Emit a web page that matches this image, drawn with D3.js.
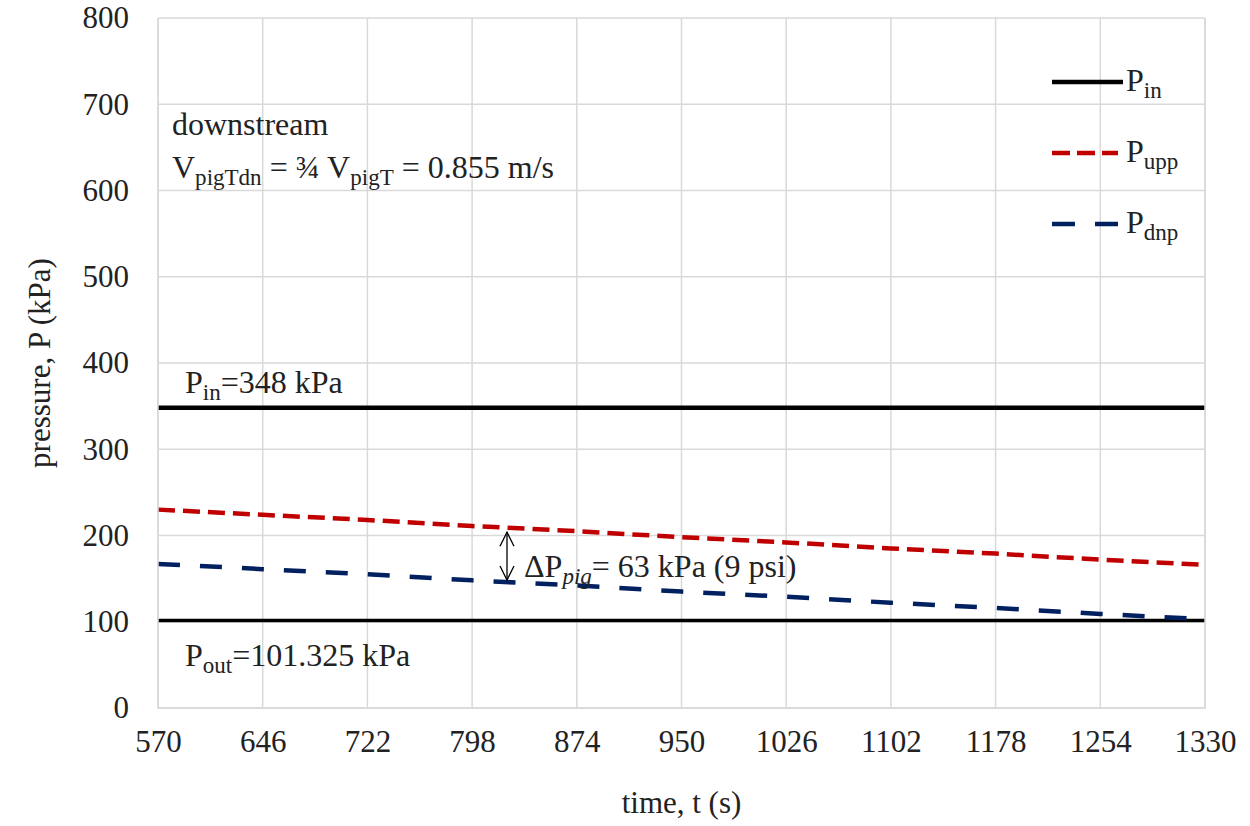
<!DOCTYPE html>
<html>
<head>
<meta charset="utf-8">
<script src="https://cdn.jsdelivr.net/npm/d3@7"></script>
<style>
  body { margin: 0; background: #fff; }
  text { font-family: "Liberation Serif", "Times New Roman", serif; fill: #222; }
</style>
</head>
<body>
<div id="chart"></div>
<script>
// x ticks (time, s) and y ticks (pressure, kPa)
const timeTicks = [570, 646, 722, 798, 874, 950, 1026, 1102, 1178, 1254, 1330];
const pressureTicks = [0, 100, 200, 300, 400, 500, 600, 700, 800];

// series at each time tick
const pIn = [348, 348, 348, 348, 348, 348, 348, 348, 348, 348, 348];
const pUpp = [230, 224, 218, 211, 205, 198, 192, 185, 179, 172, 166];
const pDnp = [167, 161, 155, 148, 142, 135, 129, 122, 116, 109, 103];
const pOut = 101.325;

const width = 1250, height = 826;
const margin = {top: 18, right: 45, bottom: 118, left: 158};
const fs = 31;   // axis text
const afs = 32;  // annotation / legend text

const svg = d3.select("#chart").append("svg")
  .attr("width", width).attr("height", height);

const x = d3.scaleLinear().domain([570, 1330]).range([margin.left, width - margin.right]);
const y = d3.scaleLinear().domain([0, 800]).range([height - margin.bottom, margin.top]);

// gridlines
svg.append("g").selectAll("line").data(pressureTicks).join("line")
  .attr("x1", x(570)).attr("x2", x(1330))
  .attr("y1", d => y(d)).attr("y2", d => y(d))
  .attr("stroke", "#d9d9d9").attr("stroke-width", 1.5);
svg.append("g").selectAll("line").data(timeTicks).join("line")
  .attr("x1", d => x(d)).attr("x2", d => x(d))
  .attr("y1", y(0)).attr("y2", y(800))
  .attr("stroke", "#d9d9d9").attr("stroke-width", 1.5);

// axes (labels only)
const xAxis = svg.append("g")
  .attr("transform", `translate(0,${y(0)})`)
  .call(d3.axisBottom(x).tickValues(timeTicks).tickSize(0).tickPadding(22).tickFormat(d3.format("d")));
const yAxis = svg.append("g")
  .attr("transform", `translate(${x(570)},0)`)
  .call(d3.axisLeft(y).tickValues(pressureTicks).tickSize(0).tickPadding(29));
[xAxis, yAxis].forEach(a => {
  a.select(".domain").remove();
  a.selectAll("text").style("font-size", fs + "px").style("font-family", "Liberation Serif").attr("fill", "#222");
});

// axis titles
svg.append("text").attr("x", (x(570) + x(1330)) / 2).attr("y", 813)
  .attr("text-anchor", "middle").style("font-size", fs + "px").text("time, t (s)");
svg.append("text").attr("transform", `translate(50,${(y(0) + y(800)) / 2}) rotate(-90)`)
  .attr("text-anchor", "middle").style("font-size", fs + "px").text("pressure, P (kPa)");

// lines
const line = d3.line().x((d, i) => x(timeTicks[i])).y(d => y(d));
svg.append("line")
  .attr("x1", x(570)).attr("x2", x(1330)).attr("y1", y(pOut)).attr("y2", y(pOut))
  .attr("stroke", "#000").attr("stroke-width", 3.5);
svg.append("path").datum(pIn).attr("d", line)
  .attr("fill", "none").attr("stroke", "#000").attr("stroke-width", 4.5);
svg.append("path").datum(pUpp).attr("d", line)
  .attr("fill", "none").attr("stroke", "#c00000").attr("stroke-width", 4.5)
  .attr("stroke-dasharray", "17 8");
svg.append("path").datum(pDnp).attr("d", line)
  .attr("fill", "none").attr("stroke", "#002060").attr("stroke-width", 4.5)
  .attr("stroke-dasharray", "22 20");

// plot border (left, right, bottom)
svg.append("path")
  .attr("d", `M${x(570)},${y(800)}V${y(0)}H${x(1330)}V${y(800)}`)
  .attr("fill", "none").attr("stroke", "#d9d9d9").attr("stroke-width", 1.5);

// helper to write text with a subscript
function subText(xp, yp, parts, size) {
  const t = svg.append("text").attr("x", xp).attr("y", yp).style("font-size", size + "px");
  parts.forEach(p => {
    const ts = t.append("tspan").text(p[0]);
    if (p[1] === "sub") ts.attr("dy", size * 0.22).style("font-size", (size * 0.72) + "px");
    else if (p[1] === "back") ts.attr("dy", -size * 0.22);
    if (p[2]) ts.style("font-style", "italic");
  });
  return t;
}

// annotations
svg.append("text").attr("x", 172).attr("y", 135).style("font-size", afs + "px").text("downstream");
subText(172, 178, [["V"], ["pigTdn", "sub"], [" = ¾ V", "back"], ["pigT", "sub"], [" = 0.855 m/s", "back"]], afs);
subText(185, 393, [["P"], ["in", "sub"], ["=348 kPa", "back"]], afs);
subText(185, 666, [["P"], ["out", "sub"], ["=101.325 kPa", "back"]], afs);
subText(524, 577, [["ΔP"], ["pig", "sub", true], ["= 63 kPa (9 psi)", "back"]], afs);

// double arrow for ΔP
const ax = 507, ay1 = y(206) + 2, ay2 = y(146) - 2;
svg.append("line").attr("x1", ax).attr("x2", ax).attr("y1", ay1).attr("y2", ay2)
  .attr("stroke", "#000").attr("stroke-width", 1.3);
svg.append("path").attr("d", `M${ax - 7},${ay1 + 14}L${ax},${ay1}L${ax + 7},${ay1 + 14}`)
  .attr("fill", "none").attr("stroke", "#000").attr("stroke-width", 1.3);
svg.append("path").attr("d", `M${ax - 7},${ay2 - 14}L${ax},${ay2}L${ax + 7},${ay2 - 14}`)
  .attr("fill", "none").attr("stroke", "#000").attr("stroke-width", 1.3);

// legend
const legend = [
  {name: "in", color: "#000", dash: null, y: 82, x2: 1123},
  {name: "upp", color: "#c00000", dash: "18 7", y: 153, x2: 1118},
  {name: "dnp", color: "#002060", dash: "23 20", y: 224, x2: 1118}
];
legend.forEach(l => {
  svg.append("line").attr("x1", 1052).attr("x2", l.x2).attr("y1", l.y).attr("y2", l.y)
    .attr("stroke", l.color).attr("stroke-width", 4.5)
    .attr("stroke-dasharray", l.dash);
  subText(1126, l.y + 9, [["P"], [l.name, "sub"]], afs);
});
</script>
</body>
</html>
